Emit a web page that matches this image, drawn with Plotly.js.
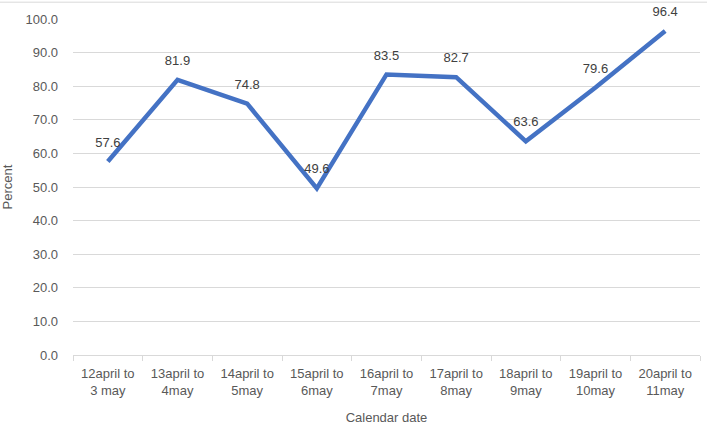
<!DOCTYPE html>
<html>
<head>
<meta charset="utf-8">
<script src="https://cdn.plot.ly/plotly-3.0.1.min.js"></script>
<style>body{margin:0;padding:0;background:#fff}#plot{width:707px;height:430px}</style>
</head>
<body>
<div id="plot"></div>
<script>
// Category labels and percent values
let periods = ['12april to<br>3 may', '13april to<br>4may', '14april to<br>5may', '15april to<br>6may',
  '16april to<br>7may', '17april to<br>8may', '18april to<br>9may', '19april to<br>10may', '20april to<br>11may']
let percent = [57.6, 81.9, 74.8, 49.6, 83.5, 82.7, 63.6, 79.6, 96.4]

var trace = {
  x: periods,
  y: percent,
  type: 'scatter',
  mode: 'lines+markers+text',
  text: percent.map(v => v.toFixed(1)),
  textposition: 'top center',
  textfont: {family: 'Liberation Sans, Arial, sans-serif', size: 13, color: '#404040'},
  line: {color: '#4472C4', width: 4.5},
  // invisible markers only push the labels up
  marker: {size: 17, color: 'rgba(0,0,0,0)'},
  cliponaxis: false,
  hoverinfo: 'x+y'
};

var layout = {
  width: 707,
  height: 430,
  margin: {l: 73, r: 7, t: 19, b: 75},
  paper_bgcolor: '#fff',
  plot_bgcolor: '#fff',
  showlegend: false,
  font: {family: 'Liberation Sans, Arial, sans-serif', size: 13, color: '#595959'},
  xaxis: {
    title: {text: 'Calendar date', font: {size: 13, color: '#595959'}, standoff: 16},
    automargin: false,
    range: [-0.5, periods.length - 0.5],
    showgrid: false,
    showline: true,
    linecolor: '#d9d9d9',
    ticks: 'outside',
    tickson: 'boundaries',
    ticklen: 5,
    tickcolor: '#d9d9d9',
    ticklabelstandoff: 6,
    tickfont: {size: 13, color: '#595959'}
  },
  yaxis: {
    title: {text: 'Percent', font: {size: 13, color: '#595959'}, standoff: 14},
    automargin: false,
    range: [0, 100],
    dtick: 10,
    tickformat: '.1f',
    gridcolor: '#d9d9d9',
    zeroline: false,
    showline: false,
    ticklen: 0,
    ticklabelstandoff: 14,
    tickfont: {size: 13, color: '#595959'}
  },
  shapes: [{
    type: 'line', xref: 'paper', yref: 'paper',
    x0: -0.2, x1: 1.02, y0: 1.05, y1: 1.05,
    line: {color: '#d9d9d9', width: 1}
  }]
};

Plotly.newPlot('plot', [trace], layout, {displayModeBar: false});
</script>
</body>
</html>
